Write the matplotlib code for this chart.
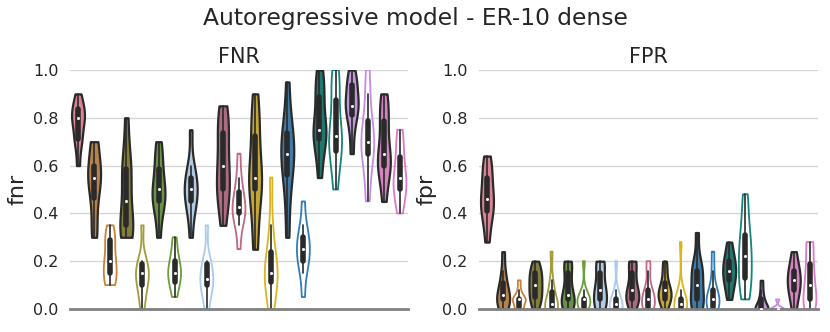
import numpy as np
import pandas as pn
import matplotlib.pyplot as plt
import seaborn as sns
from matplotlib.collections import PolyCollection

# one colour per method, filled / outline pairs share a colour
colours = ["#e8758d",
           "#c9823a", "#c9823a",
           "#8f8a2e", "#a39c3c",
           "#6a9e3a", "#6a9e3a",
           "#a8cbee", "#a8cbee",
           "#b85f7e", "#c06884",
           "#dcb41e", "#dcb41e",
           "#2f7db8", "#2f7db8",
           "#12857a", "#12857a",
           "#c48be6", "#c48be6",
           "#e077c8", "#e077c8"]
filled = [True] + [True, False] * 10
methods = ["m{:02d}".format(i) for i in range(21)]

fnr_runs = [
    [0.6, 0.7, 0.7, 0.75, 0.8, 0.8, 0.8, 0.85, 0.85, 0.9],
    [0.3, 0.35, 0.45, 0.5, 0.55, 0.55, 0.6, 0.6, 0.7, 0.7],
    [0.1, 0.1, 0.15, 0.15, 0.2, 0.2, 0.25, 0.3, 0.3, 0.35],
    [0.3, 0.3, 0.35, 0.35, 0.4, 0.5, 0.55, 0.6, 0.65, 0.8],
    [0.0, 0.05, 0.1, 0.1, 0.15, 0.15, 0.15, 0.2, 0.2, 0.35],
    [0.3, 0.4, 0.45, 0.45, 0.5, 0.5, 0.55, 0.6, 0.65, 0.7],
    [0.05, 0.1, 0.1, 0.15, 0.15, 0.15, 0.2, 0.2, 0.25, 0.3],
    [0.3, 0.4, 0.45, 0.45, 0.5, 0.5, 0.55, 0.55, 0.6, 0.75],
    [0.0, 0.05, 0.1, 0.1, 0.1, 0.15, 0.15, 0.2, 0.2, 0.35],
    [0.35, 0.45, 0.5, 0.5, 0.6, 0.6, 0.7, 0.75, 0.8, 0.85],
    [0.25, 0.35, 0.4, 0.4, 0.4, 0.45, 0.45, 0.5, 0.55, 0.65],
    [0.25, 0.35, 0.5, 0.5, 0.55, 0.55, 0.65, 0.75, 0.8, 0.9],
    [0.0, 0.05, 0.1, 0.15, 0.15, 0.15, 0.2, 0.25, 0.35, 0.55],
    [0.3, 0.45, 0.55, 0.6, 0.65, 0.65, 0.7, 0.75, 0.8, 0.95],
    [0.05, 0.15, 0.2, 0.2, 0.25, 0.25, 0.3, 0.3, 0.35, 0.45],
    [0.55, 0.65, 0.7, 0.75, 0.75, 0.75, 0.85, 0.9, 0.95, 1.0],
    [0.5, 0.6, 0.65, 0.7, 0.7, 0.75, 0.8, 0.9, 0.95, 1.0],
    [0.65, 0.75, 0.8, 0.85, 0.85, 0.85, 0.9, 0.95, 0.95, 1.0],
    [0.45, 0.55, 0.65, 0.65, 0.7, 0.7, 0.75, 0.8, 0.9, 1.0],
    [0.45, 0.55, 0.6, 0.6, 0.65, 0.65, 0.75, 0.8, 0.85, 0.9],
    [0.4, 0.45, 0.5, 0.5, 0.55, 0.55, 0.6, 0.65, 0.7, 0.75],
]

fpr_runs = [
    [0.28, 0.36, 0.4, 0.44, 0.44, 0.48, 0.52, 0.56, 0.6, 0.64],
    [0.0, 0.0, 0.04, 0.04, 0.04, 0.08, 0.08, 0.12, 0.16, 0.24],
    [0.0, 0.0, 0.0, 0.04, 0.04, 0.04, 0.04, 0.04, 0.08, 0.12],
    [0.0, 0.04, 0.04, 0.08, 0.08, 0.12, 0.12, 0.16, 0.16, 0.2],
    [0.0, 0.0, 0.0, 0.0, 0.0, 0.04, 0.04, 0.08, 0.12, 0.24],
    [0.0, 0.0, 0.04, 0.04, 0.04, 0.08, 0.12, 0.16, 0.2, 0.2],
    [0.0, 0.0, 0.0, 0.04, 0.04, 0.04, 0.04, 0.04, 0.08, 0.2],
    [0.0, 0.0, 0.04, 0.04, 0.08, 0.08, 0.12, 0.16, 0.2, 0.2],
    [0.0, 0.0, 0.0, 0.0, 0.0, 0.04, 0.04, 0.04, 0.08, 0.2],
    [0.0, 0.04, 0.04, 0.04, 0.08, 0.08, 0.12, 0.16, 0.2, 0.2],
    [0.0, 0.0, 0.0, 0.04, 0.04, 0.04, 0.08, 0.08, 0.16, 0.2],
    [0.0, 0.04, 0.04, 0.04, 0.08, 0.08, 0.08, 0.12, 0.16, 0.2],
    [0.0, 0.0, 0.0, 0.0, 0.0, 0.04, 0.04, 0.04, 0.08, 0.28],
    [0.0, 0.0, 0.04, 0.04, 0.08, 0.12, 0.16, 0.16, 0.2, 0.32],
    [0.0, 0.0, 0.0, 0.04, 0.04, 0.04, 0.08, 0.08, 0.16, 0.24],
    [0.04, 0.08, 0.12, 0.12, 0.16, 0.16, 0.2, 0.2, 0.24, 0.28],
    [0.04, 0.08, 0.12, 0.16, 0.2, 0.24, 0.28, 0.32, 0.4, 0.48],
    [0.0, 0.0, 0.0, 0.0, 0.0, 0.0, 0.04, 0.04, 0.08, 0.12],
    [0.0, 0.0, 0.0, 0.0, 0.0, 0.0, 0.0, 0.0, 0.04, 0.04],
    [0.0, 0.04, 0.08, 0.08, 0.12, 0.12, 0.16, 0.16, 0.2, 0.24],
    [0.0, 0.0, 0.04, 0.04, 0.08, 0.12, 0.16, 0.2, 0.28, 0.28],
]

sns.set_style("whitegrid")
plt.rcParams['font.family'] = ['DejaVu Sans']


def draw(ax, runs, name, title):
    df = pn.DataFrame([(methods[i], v) for i, r in enumerate(runs) for v in r],
                      columns=["method", name])
    sns.violinplot(data=df, x="method", y=name, hue="method", order=methods,
                   hue_order=methods, palette=colours, legend=False, cut=0,
                   density_norm="width", inner="box", linewidth=1.6,
                   linecolor="#2a2a2a", bw_adjust=0.8, ax=ax,
                   inner_kws=dict(box_width=4, whis_width=1.2, marker="o"))
    bodies = [c for c in ax.collections if isinstance(c, PolyCollection)]
    for body, col, f in zip(bodies, colours, filled):
        if not f:
            body.set_facecolor("none")
            body.set_edgecolor(col)
            body.set_linewidth(1.3)
    # small white median dots
    for ln in ax.lines:
        if ln.get_marker() == "o":
            ln.set_markersize(2.2)
            ln.set_markeredgewidth(0)
            ln.set_markerfacecolor("white")
            ln.set_zorder(5)
    ax.set_ylim(0, 1)
    ax.set_xlim(-0.5, 20.5)
    ax.set_yticks(np.arange(0, 1.01, 0.2))
    ax.set_xticks([])
    ax.set_xlabel("")
    ax.set_ylabel(name, fontsize=16, labelpad=4)
    ax.set_title(title, fontsize=15, pad=5)
    ax.tick_params(axis="y", labelsize=11.5, length=0, pad=8)
    ax.grid(False, axis="x")
    ax.grid(True, axis="y", color="#d6d6d6", lw=1)
    for s in ["left", "right", "top"]:
        ax.spines[s].set_visible(False)
    ax.spines["bottom"].set_color("#808080")
    ax.spines["bottom"].set_linewidth(2)


fig = plt.figure(figsize=(8.3, 3.32), dpi=100)
ax1 = fig.add_axes([0.0843, 0.0693, 0.4073, 0.7199])
ax2 = fig.add_axes([0.577, 0.0693, 0.4085, 0.7199])
draw(ax1, fnr_runs, "fnr", "FNR")
draw(ax2, fpr_runs, "fpr", "FPR")
fig.suptitle("Autoregressive model - ER-10 dense", fontsize=16.8, y=0.978)
fig.savefig("out.png", dpi=100)
